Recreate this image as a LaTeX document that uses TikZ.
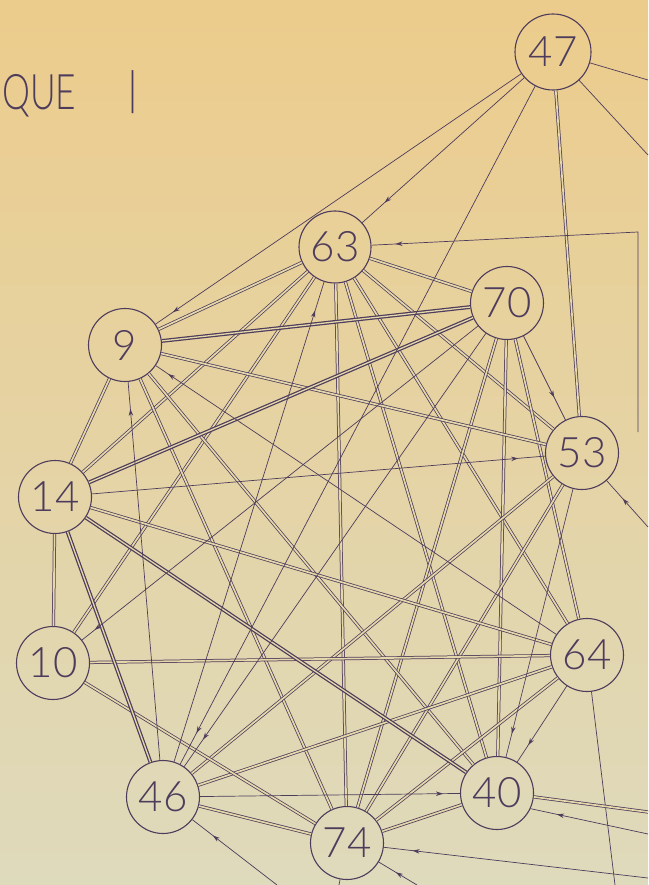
\documentclass[tikz,border=0pt]{standalone}
\usepackage{fontspec}
\setmainfont{Liberation Sans}
\newfontfamily\handfont{Lato Light}
\usetikzlibrary{arrows.meta,decorations.markings}
\definecolor{ink}{RGB}{78,60,92}
\definecolor{paper}{RGB}{228,215,170}
\definecolor{papertop}{RGB}{236,204,140}
\definecolor{papermid}{RGB}{229,214,166}
\definecolor{paperbot}{RGB}{222,218,188}
\begin{document}
\begin{tikzpicture}[x=1pt,y=-1pt,
 vtx/.style={circle, draw=ink, line width=1.1pt, minimum size=73pt, inner sep=0pt,
   font=\handfont\fontsize{42}{42}\selectfont, text=ink},
 dbl/.style={draw=ink, line width=0.75pt, double=paper, double distance=1.7pt},
 bolddbl/.style={draw=ink, line width=1.25pt, double=paper, double distance=1.3pt},
 sgl/.style={draw=ink, line width=0.7pt},
 tipat/.style={postaction={decorate}, decoration={markings,
   mark=at position #1 with {\arrow{Stealth[length=7pt,width=4.5pt]}}}},
]
\shade[top color=papertop, middle color=papermid, bottom color=paperbot] (0,0) rectangle (648,885);
\useasboundingbox (0,0) rectangle (648,885);

% title
\node[anchor=base west, inner sep=0pt, text=ink, font=\handfont\fontsize{49}{49}\selectfont] (ttl) at (2,110) {\scalebox{0.72}[1]{QUE}};
\node[anchor=base, inner sep=0pt, text=ink, font=\handfont\fontsize{46}{46}\selectfont] (bar) at (133,106) {|};

% vertices
\node[vtx, minimum size=76pt] (n47) at (553,52) {47};
\node[vtx, minimum size=72pt] (n63) at (335,247) {63};
\node[vtx] (n70) at (507,303) {70};
\node[vtx] (n9)  at (125,345) {9};
\node[vtx] (n53) at (582,453) {53};
\node[vtx] (n14) at (55,497) {14};
\node[vtx] (n64) at (587,655) {64};
\node[vtx] (n10) at (53,663) {10};
\node[vtx] (n40) at (497,793) {40};
\node[vtx] (n46) at (163,797) {46};
\node[vtx] (n74) at (347,843) {74};

% double edges
\foreach \a/\b in {n63/n70, n63/n9, n63/n53, n63/n14, n63/n64, n63/n10, n63/n40, n63/n74,
  n70/n64, n70/n40, n70/n74, n9/n53, n9/n14, n9/n74, n9/n40, n53/n46, n53/n74,
  n14/n64, n14/n10, n64/n10, n64/n46, n64/n74, n10/n74, n46/n74, n74/n40, n47/n53}
  \draw[dbl] (\a) -- (\b);
\foreach \a/\b in {n70/n9, n70/n14, n14/n40, n14/n46}
  \draw[bolddbl] (\a) -- (\b);

% single arrowed edges
\draw[sgl, tipat=-30pt] (n47) -- (n63);
\draw[sgl, tipat=-21pt] (n47) -- (n9);
\draw[sgl, tipat=-35pt] (n47) -- (n46);
\draw[sgl, tipat=-25pt] (n70) -- (n53);
\draw[sgl, tipat=-16pt] (n70) -- (n10);
\draw[sgl, tipat=-33pt] (n70) -- (n46);
\draw[sgl, tipat=-30pt] (n46) -- (n63);
\draw[sgl, tipat=-27pt] (n46) -- (n9);
\draw[sgl, tipat=-15pt] (n64) -- (n9);
\draw[sgl, tipat=-27pt] (n14) -- (n53);
\draw[sgl, tipat=-24pt] (n53) -- (n40);
\draw[sgl, tipat=-20pt] (n64) -- (n40);
\draw[sgl, tipat=-17pt] (n46) -- (n40);

% outside connectors
\coordinate (e47a) at (648,80);
\coordinate (e47b) at (648,155);
\coordinate (rt) at (638,232);
\coordinate (rb) at (638,432);
\coordinate (e53) at (648,527);
\coordinate (e64) at (615,885);
\coordinate (e40a) at (648,812);
\coordinate (e40b) at (648,834);
\coordinate (e74a) at (648,878);
\coordinate (e74b) at (417,885);
\coordinate (e74c) at (339,885);
\coordinate (e46) at (277,885);
\draw[sgl] (n47) -- (e47a);
\draw[sgl] (n47) -- (e47b);
\draw[sgl, tipat=-24pt] (rb) -- (rt) -- (n63);
\draw[sgl, tipat=-24pt] (e53) -- (n53);
\draw[sgl] (n64) -- (e64);
\draw[dbl] (n40.-6) -- (e40a);
\draw[sgl, tipat=-27pt] (e40b) -- (n40.-25);
\draw[sgl, tipat=-29pt] (e74a) -- (n74);
\draw[sgl, tipat=-20pt] (e74b) -- (n74);
\draw[sgl] (n74) -- (e74c);
\draw[sgl, tipat=-26pt] (e46) -- (n46);
\end{tikzpicture}
\end{document}
